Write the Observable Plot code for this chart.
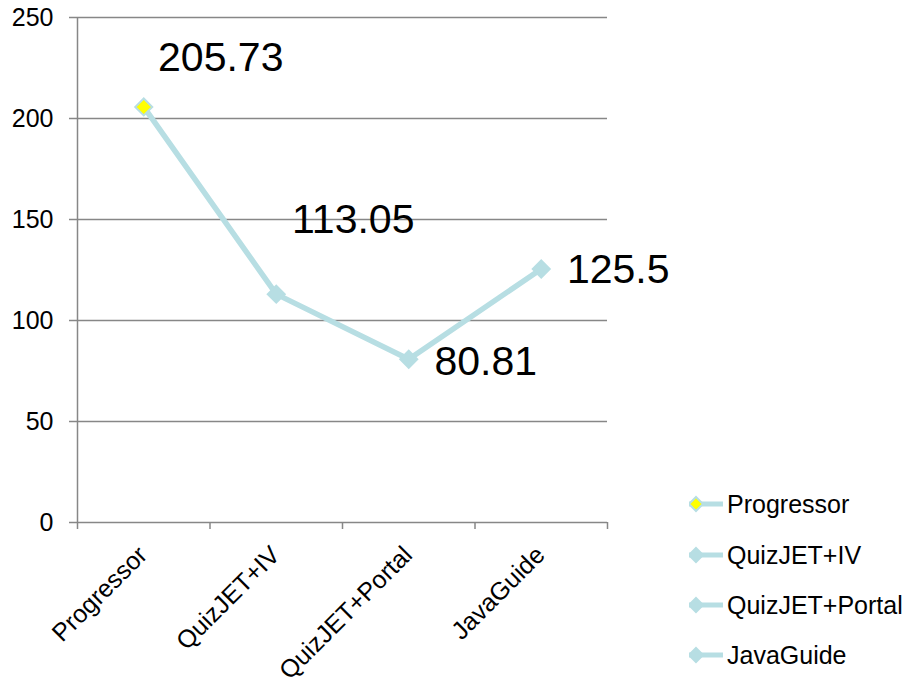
<!DOCTYPE html>
<html>
<head>
<meta charset="utf-8">
<script src="https://cdn.jsdelivr.net/npm/d3@7"></script>
<script src="https://cdn.jsdelivr.net/npm/@observablehq/plot@0.6"></script>
<style>
  html, body { margin: 0; padding: 0; background: #fff; }
  #wrap { position: relative; width: 913px; height: 685px; font-family: "Liberation Sans", Arial, sans-serif; }
  #legend { position: absolute; left: 0; top: 0; }
  .lg-row { position: absolute; height: 30px; display: flex; align-items: center; }
  .lg-row svg { display: block; }
  .lg-row span { font-size: 25px; color: #000; margin-left: 3px; line-height: 30px; }
</style>
</head>
<body>
<div id="wrap"><div id="chart"></div><div id="legend"></div></div>
<script>
// ---- data ----
const categories = ["Progressor", "QuizJET+IV", "QuizJET+Portal", "JavaGuide"];
const values = [205.73, 113.05, 80.81, 125.5];
const yTicks = [0, 50, 100, 150, 200, 250];
const yDomain = [0, 250];

// ---- layout / style ----
const lineColor = "#b7dee3";
const highlight = "#ffff00";
const gridColor = "#878787";
const labelDy = [-36, -61, 16, 14.5];
const fontFamily = "'Liberation Sans', Arial, sans-serif";

const data = categories.map((name, i) => ({ name, i, value: values[i] }));
const boundaries = d3.range(categories.length + 1);

const diamond = {
  draw(ctx, size) {
    const r = Math.sqrt(size / Math.PI);
    ctx.moveTo(0, -r); ctx.lineTo(r, 0); ctx.lineTo(0, r); ctx.lineTo(-r, 0); ctx.closePath();
  }
};

const xPos = d => d.i + 0.5;

const chart = Plot.plot({
  width: 913,
  height: 685,
  marginLeft: 77,
  marginRight: 306,
  marginTop: 17,
  marginBottom: 163,
  style: { fontFamily, fontSize: "25px", color: "#000", background: "#fff" },
  x: { type: "linear", domain: [0, categories.length], axis: null },
  y: { domain: yDomain, axis: null },
  marks: [
    Plot.ruleY(yTicks, { stroke: gridColor, strokeWidth: 1.5 }),
    Plot.ruleX([0], { stroke: gridColor, strokeWidth: 1.5 }),
    Plot.axisY(yTicks, { tickSize: 8, tickPadding: 16, stroke: gridColor, strokeWidth: 1.5, fill: "#000", fontSize: 25, label: null }),
    Plot.axisX(boundaries, { tickSize: 7, tickFormat: () => "", stroke: gridColor, strokeWidth: 1.5, label: null }),
    Plot.text(data, {
      x: xPos, y: () => 0, text: "name", rotate: -45, textAnchor: "end", lineAnchor: "bottom",
      dx: 5, dy: 34, fontSize: 25, fill: "#000"
    }),
    Plot.line(data, { x: xPos, y: "value", stroke: lineColor, strokeWidth: 5.5 }),
    Plot.dot(data, {
      x: xPos, y: "value", symbol: diamond, r: 8.5,
      fill: d => d.name === "Progressor" ? highlight : lineColor,
      stroke: lineColor, strokeWidth: 2
    }),
    ...data.map((d, k) => Plot.text([d], {
      x: xPos, y: "value", text: dd => String(dd.value), textAnchor: "middle", lineAnchor: "bottom",
      dx: 77, dy: labelDy[k], fontSize: 41, fill: "#000"
    }))
  ]
});
document.getElementById("chart").appendChild(chart);

// ---- legend ----
const legend = document.getElementById("legend");
const legendTop = [504, 555, 605, 655];
categories.forEach((name, i) => {
  const row = document.createElement("div");
  row.className = "lg-row";
  row.style.left = "689px";
  row.style.top = (legendTop[i] - 15) + "px";
  const fill = name === "Progressor" ? highlight : lineColor;
  row.innerHTML = `<svg width="35" height="30"><line x1="0" x2="34" y1="15" y2="15" stroke="${lineColor}" stroke-width="5"/><path d="M7,8 L14,15 L7,22 L0,15 Z" fill="${fill}" stroke="${lineColor}" stroke-width="2"/></svg><span>${name}</span>`;
  legend.appendChild(row);
});
</script>
</body>
</html>
